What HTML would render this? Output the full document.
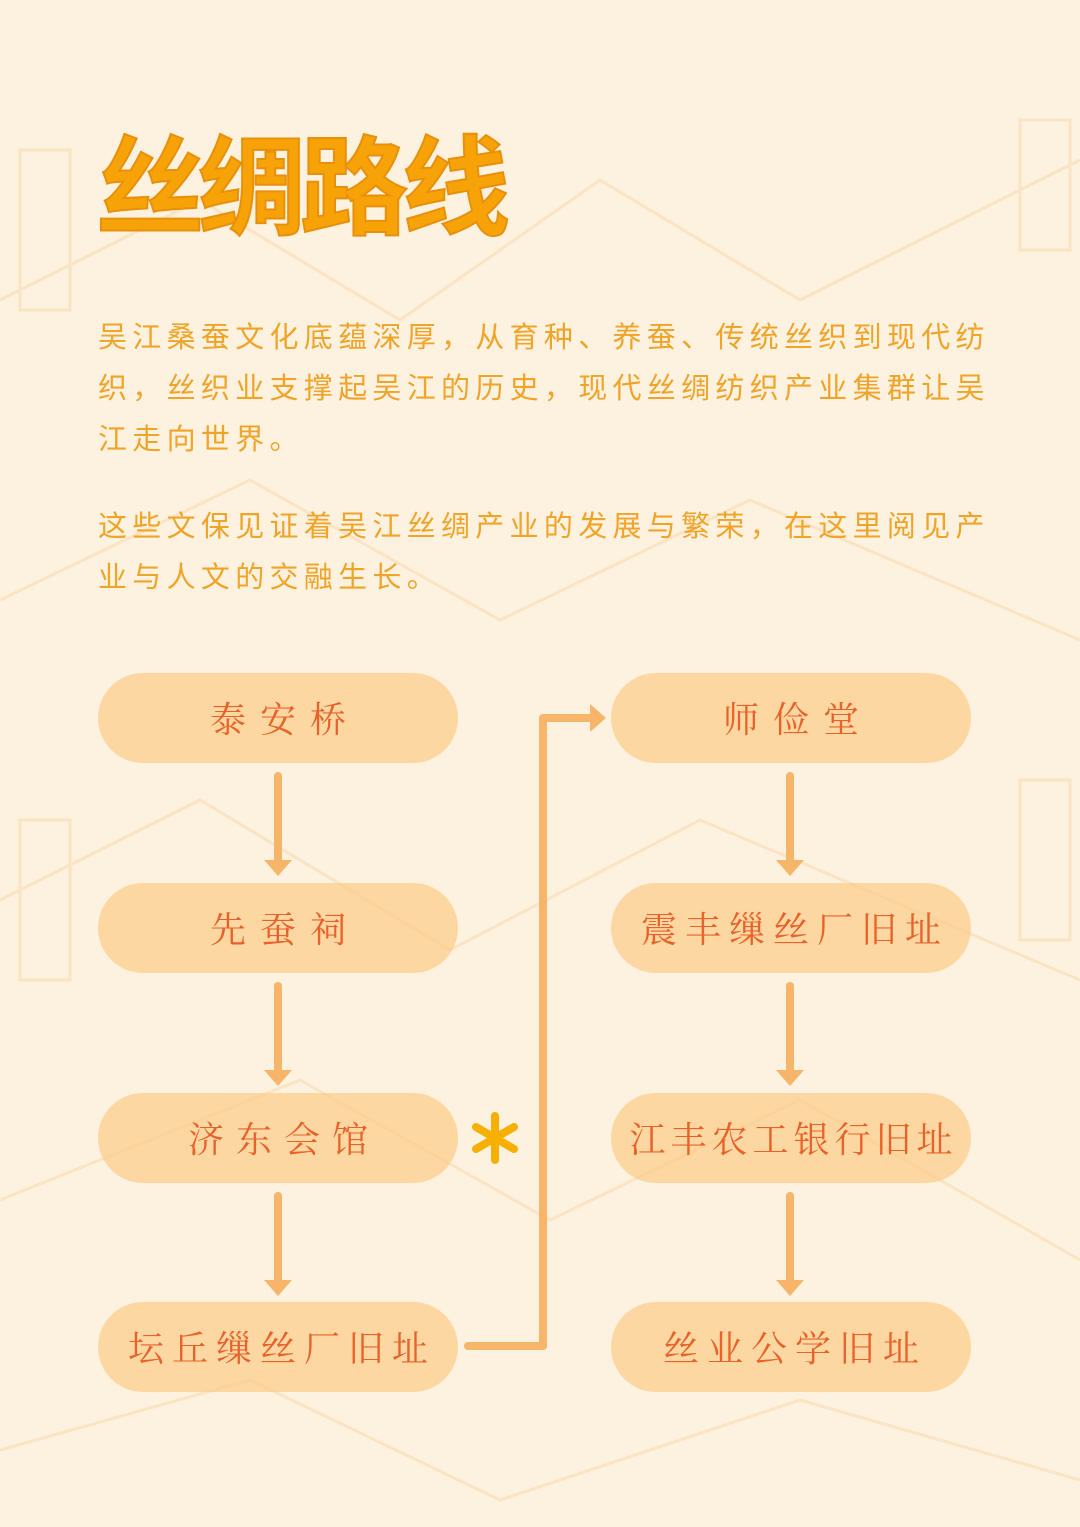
<!DOCTYPE html>
<html><head><meta charset="utf-8"><style>
body{margin:0;width:1080px;height:1527px;overflow:hidden;background:#fdf1df;position:relative;font-family:"Liberation Sans","Noto Sans CJK SC",sans-serif}
.t{position:absolute;left:96px;top:105px;font-size:108px;font-weight:bold;color:#f7a308;letter-spacing:-6px;font-family:"Noto Sans CJK SC",sans-serif;-webkit-text-stroke:2px #e8900a;line-height:150px;white-space:nowrap}
.p{position:absolute;left:98px;width:960px;font-size:29px;color:#f0a428;line-height:51px;letter-spacing:5.3px;white-space:nowrap}
.n{position:absolute;width:360px;height:90px;border-radius:45px;background:rgba(251,206,140,0.75);color:#e8622a;font-size:36px;text-align:center;line-height:90px;font-family:"Noto Serif CJK SC",serif;white-space:nowrap;box-sizing:border-box}
</style></head><body>
<svg width="1080" height="1527" style="position:absolute;left:0;top:0">
<g fill="none" stroke="#f9e1bd" stroke-width="3" opacity="0.8">
<path d="M0 300 L200 200 L400 320 L600 180 L800 300 L1080 160"/>
<path d="M0 600 L250 480 L500 620 L750 500 L1080 640"/>
<path d="M0 900 L200 800 L450 950 L700 820 L1080 980"/>
<path d="M0 1200 L300 1080 L550 1220 L800 1100 L1080 1260"/>
<path d="M0 1450 L250 1380 L500 1500 L800 1400 L1080 1480"/>
<rect x="20" y="150" width="50" height="160"/><rect x="1020" y="120" width="50" height="130"/>
<rect x="20" y="820" width="50" height="160"/><rect x="1020" y="780" width="50" height="160"/>
</g>
<g stroke="#f6b568" stroke-width="8" fill="none" stroke-linecap="round" stroke-linejoin="round">
<line x1="278" y1="776" x2="278" y2="862"/><line x1="278" y1="986" x2="278" y2="1072"/><line x1="278" y1="1196" x2="278" y2="1282"/>
<line x1="790" y1="776" x2="790" y2="862"/><line x1="790" y1="986" x2="790" y2="1072"/><line x1="790" y1="1196" x2="790" y2="1282"/>
<path d="M468 1346 H543 V718 H592"/>
</g>
<g fill="#f6b568">
<path d="M264 860 L292 860 L278 876Z"/><path d="M264 1070 L292 1070 L278 1086Z"/><path d="M264 1280 L292 1280 L278 1296Z"/>
<path d="M776 860 L804 860 L790 876Z"/><path d="M776 1070 L804 1070 L790 1086Z"/><path d="M776 1280 L804 1280 L790 1296Z"/>
<path d="M590 704 L606 718 L590 732Z"/>
</g>
<g stroke="#f7b000" stroke-width="8" stroke-linecap="round">
<line x1="495" y1="1116" x2="495" y2="1160"/><line x1="476" y1="1127" x2="514" y2="1149"/><line x1="476" y1="1149" x2="514" y2="1127"/>
</g>
</svg>
<div class="t">丝绸路线</div>
<div class="p" style="top:313px">吴江桑蚕文化底蕴深厚，从育种、养蚕、传统丝织到现代纺<br>织，丝织业支撑起吴江的历史，现代丝绸纺织产业集群让吴<br>江走向世界。</div>
<div class="p" style="top:502px">这些文保见证着吴江丝绸产业的发展与繁荣，在这里阅见产<br>业与人文的交融生长。</div>
<div class="n" style="left:98px;top:673px;letter-spacing:14px;padding-left:14px">泰安桥</div>
<div class="n" style="left:98px;top:883px;letter-spacing:14px;padding-left:14px">先蚕祠</div>
<div class="n" style="left:98px;top:1093px;letter-spacing:12px;padding-left:12px">济东会馆</div>
<div class="n" style="left:98px;top:1302px;letter-spacing:8px;padding-left:8px">坛丘缫丝厂旧址</div>
<div class="n" style="left:611px;top:673px;letter-spacing:14px;padding-left:14px">师俭堂</div>
<div class="n" style="left:611px;top:883px;letter-spacing:8px;padding-left:8px">震丰缫丝厂旧址</div>
<div class="n" style="left:611px;top:1093px;letter-spacing:5px;padding-left:5px">江丰农工银行旧址</div>
<div class="n" style="left:611px;top:1302px;letter-spacing:8px;padding-left:8px">丝业公学旧址</div>
</body></html>
